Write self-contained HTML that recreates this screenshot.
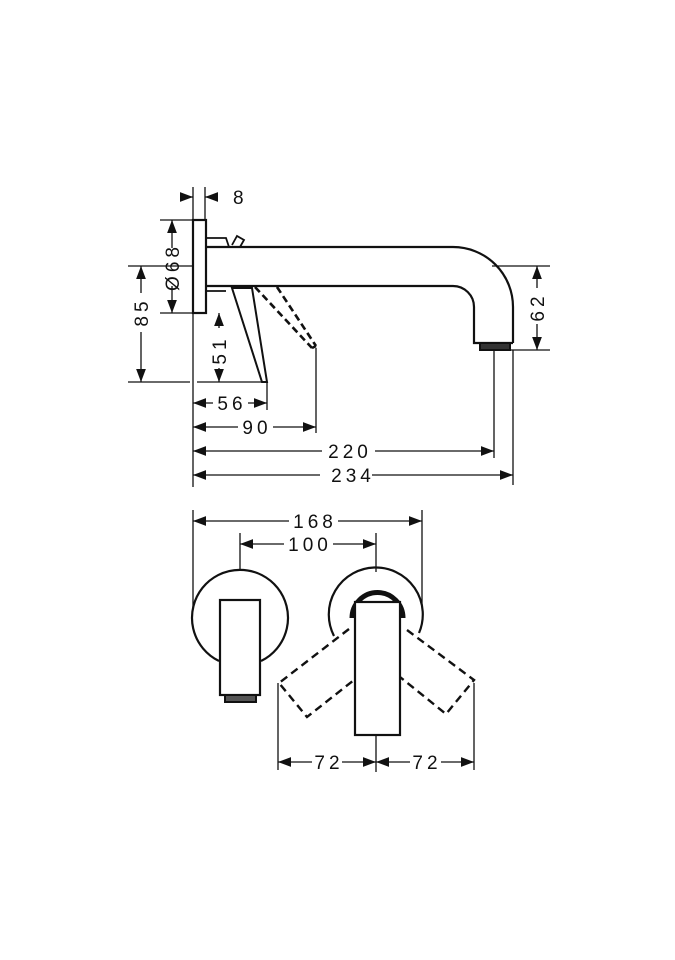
<!DOCTYPE html>
<html><head><meta charset="utf-8"><style>
html,body{margin:0;padding:0;background:#fff;}
svg{display:block;}
text{font-family:"Liberation Sans",sans-serif;font-size:19px;fill:#111;letter-spacing:4px;}
</style></head><body>
<svg width="675" height="960" viewBox="0 0 675 960" xmlns="http://www.w3.org/2000/svg">
<defs>
<marker id="a" viewBox="0 0 12 10" refX="12" refY="5" markerWidth="13" markerHeight="11" markerUnits="userSpaceOnUse" orient="auto-start-reverse"><path d="M0,0.5 L12,5 L0,9.5 Z" fill="#111"/></marker>
</defs>
<g stroke="#111" fill="none" stroke-width="1.3">
<line x1="193" y1="187" x2="193" y2="487"/>
<line x1="205" y1="187" x2="205" y2="220"/>
<line x1="160" y1="220" x2="193" y2="220"/>
<line x1="160" y1="313" x2="193" y2="313"/>
<line x1="128" y1="266" x2="192" y2="266"/>
<line x1="128" y1="382" x2="190" y2="382"/>
<line x1="197" y1="382" x2="267" y2="382"/>
<line x1="267" y1="382" x2="267" y2="410"/>
<line x1="316" y1="348" x2="316" y2="433"/>
<line x1="494" y1="350" x2="494" y2="458"/>
<line x1="513" y1="350" x2="513" y2="485"/>
<line x1="492" y1="266" x2="550" y2="266"/>
<line x1="510" y1="350" x2="550" y2="350"/>
<line x1="180" y1="197" x2="193" y2="197" marker-end="url(#a)"/>
<line x1="218" y1="197" x2="205" y2="197" marker-end="url(#a)"/>
<line x1="172" y1="220" x2="172" y2="248" marker-start="url(#a)"/>
<line x1="172" y1="286" x2="172" y2="313" marker-end="url(#a)"/>
<line x1="141" y1="266" x2="141" y2="293" marker-start="url(#a)"/>
<line x1="141" y1="332" x2="141" y2="382" marker-end="url(#a)"/>
<line x1="219" y1="313" x2="219" y2="328" marker-start="url(#a)"/>
<line x1="219" y1="368" x2="219" y2="382" marker-end="url(#a)"/>
<line x1="193" y1="403" x2="213" y2="403" marker-start="url(#a)"/>
<line x1="248" y1="403" x2="267" y2="403" marker-end="url(#a)"/>
<line x1="193" y1="427" x2="238" y2="427" marker-start="url(#a)"/>
<line x1="273" y1="427" x2="316" y2="427" marker-end="url(#a)"/>
<line x1="193" y1="451" x2="322" y2="451" marker-start="url(#a)"/>
<line x1="375" y1="451" x2="494" y2="451" marker-end="url(#a)"/>
<line x1="193" y1="475" x2="320" y2="475" marker-start="url(#a)"/>
<line x1="372" y1="475" x2="513" y2="475" marker-end="url(#a)"/>
<line x1="537" y1="266" x2="537" y2="288" marker-start="url(#a)"/>
<line x1="537" y1="324" x2="537" y2="350" marker-end="url(#a)"/>
<rect x="193" y="220" width="13" height="93" stroke-width="2.2"/>
<path d="M206,247 H453 A60,60 0 0 1 513,307 V343 M206,286 H453 A21,21 0 0 1 474,307 V343 H513" stroke-width="2.2"/>
<rect x="480" y="343" width="30" height="7" stroke-width="2" fill="#333"/>
<path d="M206,238 H226 L229,247 M232,245 L237,236 L244,240 L240,247 M206,291 H226" stroke-width="1.8"/>
<path d="M232,288 L252,288 L267,382 L262,382 Z" stroke-width="2"/>
<path d="M255,287 L312,348 M277,287 L316,346 M312,348 L316,346" stroke-width="2.6" stroke-dasharray="7,4"/>
<line x1="193" y1="510" x2="193" y2="608"/>
<line x1="422" y1="510" x2="422" y2="605"/>
<line x1="240" y1="533" x2="240" y2="571"/>
<line x1="376" y1="533" x2="376" y2="572"/>
<line x1="278" y1="683" x2="278" y2="770"/>
<line x1="474" y1="683" x2="474" y2="770"/>
<line x1="376" y1="735" x2="376" y2="772"/>
<line x1="193" y1="521" x2="289" y2="521" marker-start="url(#a)"/>
<line x1="338" y1="521" x2="422" y2="521" marker-end="url(#a)"/>
<line x1="240" y1="544" x2="284" y2="544" marker-start="url(#a)"/>
<line x1="333" y1="544" x2="376" y2="544" marker-end="url(#a)"/>
<line x1="278" y1="762" x2="312" y2="762" marker-start="url(#a)"/>
<line x1="342" y1="762" x2="376" y2="762" marker-end="url(#a)"/>
<line x1="376" y1="762" x2="410" y2="762" marker-start="url(#a)"/>
<line x1="441" y1="762" x2="474" y2="762" marker-end="url(#a)"/>
<path d="M219,661 A48,48 0 1 1 261,661" stroke-width="2.2"/>
<rect x="220" y="600" width="40" height="95" stroke-width="2.2" fill="#fff"/>
<rect x="225" y="695" width="31" height="7" stroke-width="2" fill="#555"/>
<path d="M334,636 A47,47 0 1 1 419,633" stroke-width="2.2"/>
<path d="M352,618 A24,24 0 0 1 403,618" stroke-width="5"/>
<path d="M349,629 L279,683 L307,717 L354,680 M407,630 L474,680 L446,714 L400,677" stroke-width="2.4" stroke-dasharray="8,5"/>
<rect x="355" y="602" width="45" height="133" stroke-width="2.2" fill="#fff"/>
</g>
<text x="233" y="204">8</text>
<text x="350" y="458" text-anchor="middle">220</text>
<text x="353" y="482" text-anchor="middle">234</text>
<text x="232" y="410" text-anchor="middle">56</text>
<text x="257" y="434" text-anchor="middle">90</text>
<text x="315" y="528" text-anchor="middle">168</text>
<text x="310" y="551" text-anchor="middle">100</text>
<text x="329" y="769" text-anchor="middle">72</text>
<text x="427" y="769" text-anchor="middle">72</text>
<text transform="translate(179,267) rotate(-90)" text-anchor="middle">Ø68</text>
<text transform="translate(148,312) rotate(-90)" text-anchor="middle">85</text>
<text transform="translate(226,350) rotate(-90)" text-anchor="middle">51</text>
<text transform="translate(544,307) rotate(-90)" text-anchor="middle">62</text>
</svg>
</body></html>
